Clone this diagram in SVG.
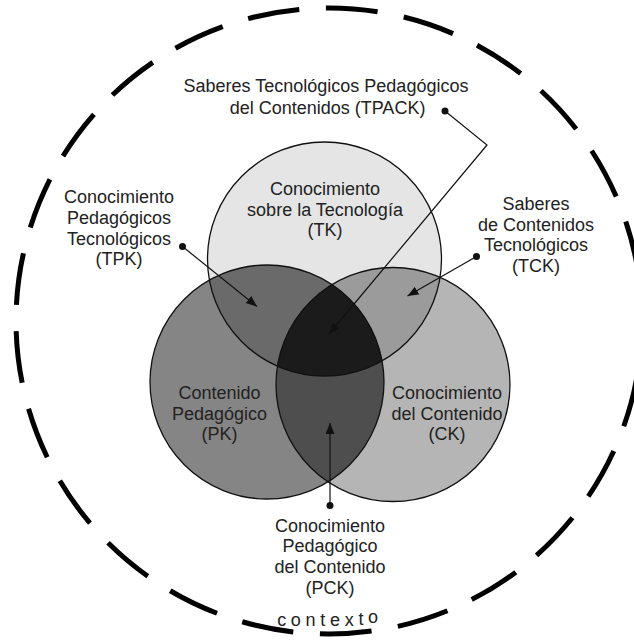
<svg xmlns="http://www.w3.org/2000/svg" width="634" height="640" viewBox="0 0 634 640">
  <style>
    .lbl { font-family: "Liberation Sans", Arial, sans-serif; font-size: 18px; fill: #222; text-anchor: middle; }
    .outline { fill: none; stroke: #111; stroke-width: 1.3; }
    .conn { fill: none; stroke: #111; stroke-width: 1.2; }
    .dot { fill: #111; }
  </style>
  <defs>
    <clipPath id="clipTK"><circle cx="324.5" cy="259" r="117"/></clipPath>
    <clipPath id="clipPK"><circle cx="267" cy="382" r="117"/></clipPath>
    <marker id="arrow" markerUnits="userSpaceOnUse" markerWidth="12" markerHeight="10" refX="11" refY="4.5" orient="auto">
      <path d="M0,0 L11,4.5 L0,9 z" fill="#111"/>
    </marker>
  </defs>
  <rect x="0" y="0" width="634" height="640" fill="#fff"/>

  <g id="context">
    <circle cx="329" cy="321" r="313" fill="none" stroke="#000" stroke-width="5" stroke-dasharray="52 26.66" stroke-dashoffset="23.3"/>
    <text class="lbl" x="330" y="626" letter-spacing="4.7"><tspan>conte</tspan><tspan dy="-0.3">x</tspan><tspan dy="-0.7">t</tspan><tspan dy="-1.8">o</tspan></text>
  </g>

  <g id="node-TK">
    <circle cx="324.5" cy="259" r="117" fill="#e5e5e5"/>
  </g>
  <g id="node-PK">
    <circle cx="267" cy="382" r="117" fill="#858585"/>
  </g>
  <g id="node-CK">
    <circle cx="393" cy="384.5" r="117" fill="#b5b5b5"/>
  </g>
  <g id="node-TPK">
    <circle cx="267" cy="382" r="117" fill="#6a6a6a" clip-path="url(#clipTK)"/>
  </g>
  <g id="node-TCK">
    <circle cx="393" cy="384.5" r="117" fill="#9b9b9b" clip-path="url(#clipTK)"/>
  </g>
  <g id="node-PCK">
    <circle cx="393" cy="384.5" r="117" fill="#4e4e4e" clip-path="url(#clipPK)"/>
  </g>
  <g id="node-TPACK">
    <g clip-path="url(#clipTK)">
      <circle cx="393" cy="384.5" r="117" fill="#1b1b1b" clip-path="url(#clipPK)"/>
    </g>
  </g>
  <g id="outlines">
    <circle class="outline" cx="324.5" cy="259" r="117"/>
    <circle class="outline" cx="267" cy="382" r="117"/>
    <circle class="outline" cx="393" cy="384.5" r="117"/>
  </g>

  <g id="connectors">
    <polyline class="conn" points="445,111 487,145 329,334" marker-end="url(#arrow)"/>
    <circle class="dot" cx="445" cy="111" r="3.5"/>
    <line class="conn" x1="182.5" y1="246.5" x2="257" y2="306.5" marker-end="url(#arrow)"/>
    <circle class="dot" cx="182.5" cy="246.5" r="3.5"/>
    <line class="conn" x1="476.5" y1="256.5" x2="407.5" y2="296" marker-end="url(#arrow)"/>
    <circle class="dot" cx="476.5" cy="256.5" r="3.5"/>
    <line class="conn" x1="330" y1="505.5" x2="330" y2="423" marker-end="url(#arrow)"/>
    <circle class="dot" cx="330" cy="505.5" r="3.5"/>
  </g>

  <g id="label-TPACK">
    <text class="lbl" x="326" y="92">Saberes Tecnológicos Pedagógicos</text>
    <text class="lbl" x="327.5" y="113.5">del Contenidos (TPACK)</text>
  </g>
  <g id="label-TK">
    <text class="lbl" x="325" y="195">Conocimiento</text>
    <text class="lbl" x="325" y="215.7">sobre la Tecnología</text>
    <text class="lbl" x="325" y="236.4">(TK)</text>
  </g>
  <g id="label-TPK">
    <text class="lbl" x="119" y="203.3">Conocimiento</text>
    <text class="lbl" x="119" y="224">Pedagógicos</text>
    <text class="lbl" x="119" y="244.7">Tecnológicos</text>
    <text class="lbl" x="119" y="265.4">(TPK)</text>
  </g>
  <g id="label-TCK">
    <text class="lbl" x="536" y="210">Saberes</text>
    <text class="lbl" x="536" y="230.7">de Contenidos</text>
    <text class="lbl" x="536" y="251.4">Tecnológicos</text>
    <text class="lbl" x="536" y="272.1">(TCK)</text>
  </g>
  <g id="label-PK">
    <text class="lbl" x="219.6" y="399">Contenido</text>
    <text class="lbl" x="219.6" y="419.7">Pedagógico</text>
    <text class="lbl" x="219.6" y="440.4">(PK)</text>
  </g>
  <g id="label-CK">
    <text class="lbl" x="447" y="399">Conocimiento</text>
    <text class="lbl" x="447" y="419.7">del Contenido</text>
    <text class="lbl" x="447" y="440.4">(CK)</text>
  </g>
  <g id="label-PCK">
    <text class="lbl" x="330" y="531.5">Conocimiento</text>
    <text class="lbl" x="330" y="552.2">Pedagógico</text>
    <text class="lbl" x="330" y="572.9">del Contenido</text>
    <text class="lbl" x="330" y="593.6">(PCK)</text>
  </g>
</svg>
